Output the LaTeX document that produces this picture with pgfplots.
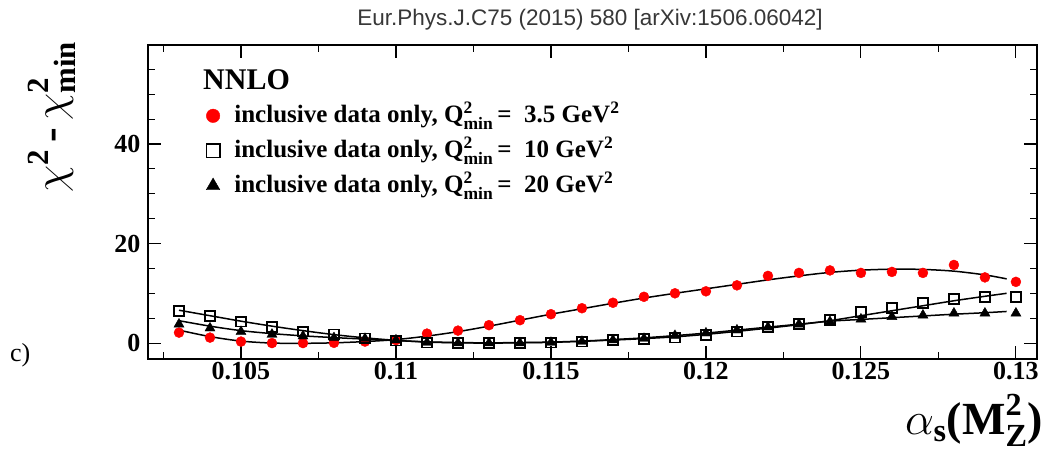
\RequirePackage{fix-cm}
\documentclass[border=0pt]{standalone}
\usepackage{amsmath}
\usepackage{pgfplots}
\pgfplotsset{compat=1.18}
\usepackage{fontspec}
\setmainfont{Liberation Serif}
\newfontfamily\titlefont{Liberation Sans}
\definecolor{titlegray}{RGB}{55,55,55}

% chi^2 profiles versus alpha_s(M_Z^2), three Q^2_min cuts
\pgfplotstableread{
a      d
0.103  2.1
0.104  1.1
0.105  0.3
0.106  0.0
0.107  0.0
0.108  0.05
0.109  0.3
0.110  0.6
0.111  1.9
0.112  2.5
0.113  3.6
0.114  4.6
0.115  5.8
0.116  7.0
0.117  8.1
0.118  9.3
0.119  10.0
0.120  10.4
0.121  11.6
0.122  13.5
0.123  14.1
0.124  14.6
0.125  14.1
0.126  14.3
0.127  14.1
0.128  15.7
0.129  13.2
0.130  12.3
}\redpts
\pgfplotstableread{
a      d
0.103  6.4
0.104  5.4
0.105  4.3
0.106  3.2
0.107  2.3
0.108  1.75
0.109  0.95
0.110  0.5
0.111  0.1
0.112  0.0
0.113  0.0
0.114  0.05
0.115  0.1
0.116  0.3
0.117  0.6
0.118  0.8
0.119  1.1
0.120  1.6
0.121  2.3
0.122  3.2
0.123  3.8
0.124  4.6
0.125  6.2
0.126  7.0
0.127  8.1
0.128  8.8
0.129  9.3
0.130  9.3
}\sqpts
\pgfplotstableread{
a      d
0.103  3.8
0.104  3.0
0.105  2.3
0.106  1.75
0.107  1.4
0.108  1.05
0.109  0.9
0.110  0.6
0.111  0.1
0.112  0.0
0.113  0.0
0.114  0.0
0.115  0.1
0.116  0.3
0.117  0.6
0.118  0.9
0.119  1.5
0.120  2.0
0.121  2.6
0.122  3.2
0.123  3.8
0.124  4.3
0.125  4.8
0.126  5.3
0.127  5.6
0.128  6.0
0.129  6.0
0.130  6.0
}\tripts
% fitted curves
\pgfplotstableread{
a       d
0.103   2.6
0.104   1.3
0.105   0.4
0.106   0.0
0.107   -0.05
0.108   0.05
0.109   0.3
0.110   0.7
0.111   1.4
0.112   2.3
0.113   3.4
0.114   4.6
0.115   5.8
0.116   6.9
0.117   8.0
0.118   9.05
0.119   10.0
0.120   10.9
0.121   11.8
0.122   12.7
0.123   13.5
0.124   14.2
0.125   14.65
0.126   14.85
0.127   14.8
0.128   14.45
0.129   13.7
0.1297  12.9
}\redfit
\pgfplotstableread{
a       d
0.103   6.6
0.104   5.5
0.105   4.4
0.106   3.4
0.107   2.5
0.108   1.7
0.109   1.05
0.110   0.55
0.111   0.2
0.112   0.05
0.113   0.0
0.114   0.05
0.115   0.15
0.116   0.35
0.117   0.6
0.118   0.9
0.119   1.25
0.120   1.75
0.121   2.35
0.122   3.0
0.123   3.7
0.124   4.5
0.125   5.5
0.126   6.5
0.127   7.5
0.128   8.5
0.129   9.4
0.1297  10.0
}\sqfit
\pgfplotstableread{
a       d
0.103   4.5
0.104   3.4
0.105   2.5
0.106   1.9
0.107   1.45
0.108   1.1
0.109   0.8
0.110   0.5
0.111   0.25
0.112   0.1
0.113   0.05
0.114   0.1
0.115   0.2
0.116   0.4
0.117   0.7
0.118   1.05
0.119   1.5
0.120   2.0
0.121   2.6
0.122   3.2
0.123   3.8
0.124   4.4
0.125   4.75
0.126   5.1
0.127   5.45
0.128   5.8
0.129   6.1
0.1297  6.35
}\trifit

\begin{document}
\begin{tikzpicture}[x=1pt,y=1pt]
\begin{axis}[
  at={(0pt,0pt)}, anchor=south west,
  scale only axis, width=889pt, height=314pt,
  xmin=0.1020, xmax=0.13068, ymin=-3.2, ymax=59.9,
  axis line style={line width=1.4pt},
  tick pos=both, tick align=inside,
  major tick length=13pt, minor tick length=7pt,
  every tick/.style={black, line width=1.1pt},
  xtick={0.105,0.11,0.115,0.12,0.125,0.13},
  xticklabels={0.105,0.11,0.115,0.12,0.125,0.13},
  minor xtick={0.1025,0.1075,0.1125,0.1175,0.1225,0.1275},
  ytick={0,20,40}, yticklabels={0,20,40},
  minor ytick={5,10,15,25,30,35,45,50,55},
  ticklabel style={font=\bfseries\fontsize{26}{26}\selectfont},
  yticklabel style={xshift=-4pt},
  legend style={draw=none, fill=none, at={(0.062,0.834)}, anchor=north west,
    font=\bfseries\fontsize{25}{30}\selectfont, row sep=2pt, column sep=12pt,
    nodes={inner sep=2.5pt, text height=21pt, text depth=7pt}},
  legend cell align=left,
  legend image code/.code={\draw[#1, every mark/.append style={scale=1.35}] plot coordinates {(0pt,0pt)};},
]
\addplot[only marks, mark=*, mark size=5pt, color=red, mark options={fill=red, draw=red}]
  table[x=a, y=d] {\redpts};
\addlegendentry{inclusive data only, $\text{Q}^{\text{2}}_{\text{min}}$\,=~~3.5 GeV$^{\text{2}}$}
\addplot[only marks, mark=square, mark size=4.9pt, color=black, mark options={line width=1.8pt}]
  table[x=a, y=d] {\sqpts};
\addlegendentry{inclusive data only, $\text{Q}^{\text{2}}_{\text{min}}$\,=~~10 GeV$^{\text{2}}$}
\addplot[only marks, mark=triangle*, mark size=5.8pt, color=black]
  table[x=a, y=d] {\tripts};
\addlegendentry{inclusive data only, $\text{Q}^{\text{2}}_{\text{min}}$\,=~~20 GeV$^{\text{2}}$}
\addplot[forget plot, smooth, black, line width=1.5pt] table[x=a, y=d] {\redfit};
\addplot[forget plot, smooth, black, line width=1.5pt] table[x=a, y=d] {\sqfit};
\addplot[forget plot, smooth, black, line width=1.5pt] table[x=a, y=d] {\trifit};
\end{axis}
% titles and labels
\node[anchor=center, text=titlegray, font=\titlefont\fontsize{22.5}{22.5}\selectfont]
  at (442pt,339pt) {Eur.Phys.J.C75 (2015) 580 [arXiv:1506.06042]};
\node[anchor=base west, inner sep=0pt, font=\bfseries\fontsize{30}{30}\selectfont]
  at (55pt,269pt) {NNLO};
\node[anchor=base west, inner sep=0pt, font=\fontsize{26}{26}\selectfont]
  at (-138pt,-3pt) {c)};
\node[anchor=base east, inner sep=0pt, font=\bfseries\fontsize{46}{46}\selectfont]
  at (895pt,-76pt) {$\alpha_{\text{s}}\text{(M}^{\text{2}}_{\text{Z}}\text{)}$};
\node[anchor=center, rotate=90, inner sep=0pt, font=\bfseries\fontsize{44}{44}\selectfont]
  at (-96pt,242pt) {$\chi^{\text{2}}\text{\,-\,}\chi^{\text{2}}_{\text{min}}$};
\path[use as bounding box] (-148pt,-98pt) rectangle (897pt,359pt);
\end{tikzpicture}
\end{document}
